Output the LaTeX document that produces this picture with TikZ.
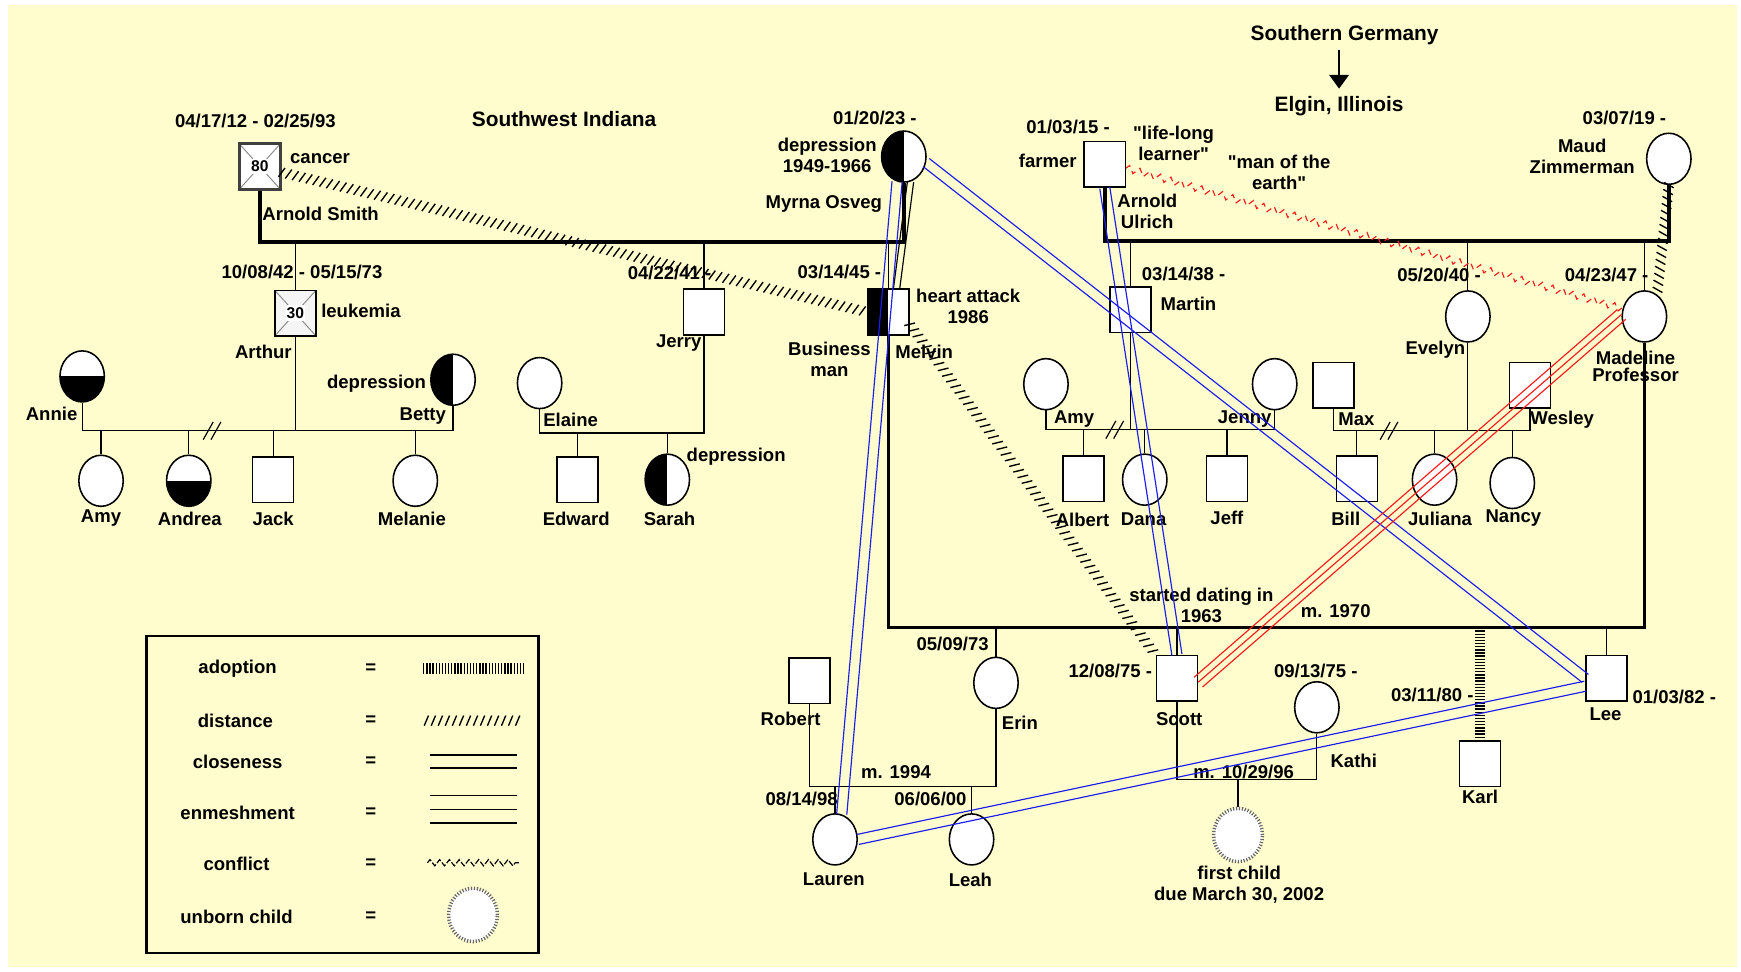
\documentclass[tikz,border=0pt]{standalone}
\usepackage{fontspec}
\setmainfont{Liberation Sans}
\definecolor{paperyellow}{RGB}{255,253,206}
\definecolor{closeblue}{RGB}{30,30,235}
\definecolor{fightred}{RGB}{245,30,30}
\usetikzlibrary{shapes.geometric,arrows.meta,calc,decorations.pathmorphing,decorations.markings}

\begin{document}
\begin{tikzpicture}[x=0.02cm,y=-0.02cm,
    txt/.style={font=\bfseries\fontsize{9.5}{10.8}\selectfont,inner sep=0pt,align=center},
    place/.style={font=\bfseries\fontsize{10.7}{12}\selectfont,inner sep=0pt},
    male/.style={draw,rectangle,fill=white,line width=0.8pt,minimum width=0.74cm,minimum height=0.82cm,inner sep=0pt},
    female/.style={draw,ellipse,fill=white,line width=0.8pt,minimum width=0.8cm,minimum height=0.92cm,inner sep=0pt},
    halfleft/.style={path picture={\fill[black] (path picture bounding box.south west) rectangle (path picture bounding box.north);}},
    halflow/.style={path picture={\fill[black] (path picture bounding box.south west) rectangle (path picture bounding box.east);}},
    deceased/.style={font=\bfseries\fontsize{8}{9}\selectfont,path picture={
        \draw[black!45,line width=0.5pt] (path picture bounding box.south west) -- (path picture bounding box.north east)
            (path picture bounding box.north west) -- (path picture bounding box.south east);
        \fill[white] ([shift={(-5pt,-4pt)}]path picture bounding box.center) rectangle ([shift={(5pt,4pt)}]path picture bounding box.center);}},
    unborn/.style={draw=black!60,ellipse,fill=white,line width=1.8pt,dash pattern=on 0.6pt off 0.9pt,minimum width=0.88cm,minimum height=0.96cm,inner sep=0pt},
    kin/.style={line width=0.6pt},
    bond/.style={line width=1.8pt},
    adopt/.style={line width=0.17cm,dash pattern=on 0.7pt off 0.9pt},
    closeline/.style={closeblue,line width=0.6pt},
    enmesh/.style={fightred,line width=0.6pt},
    conflict/.style={fightred,line width=0.6pt,dash pattern=on 3pt off 2.4pt,decorate,decoration={zigzag,segment length=5.5pt,amplitude=1.8pt}},
    apartline/.style={postaction={decorate},decoration={markings,mark=between positions 0 and 1 step 3.6pt with {\draw[line width=0.7pt] (-1.1pt,-2.6pt) -- (1.1pt,2.6pt);}}}]

    \useasboundingbox (0,0) rectangle (1568,875);
    \fill[paperyellow] (7.6,4.2) rectangle (1564,871);

    % places
    \node[place] (swindiana) at (508,107) {Southwest Indiana};
    \node[place] (sgermany) at (1211,32) {Southern Germany};
    \node[place] (elgin) at (1206,96) {Elgin, Illinois};
    \draw[-{Triangle[width=10pt,length=7pt]},line width=0.8pt,shorten <=2pt,shorten >=4pt] (elgin.north |- sgermany.south) -- (elgin.north);

    % grandparents
    \node[male,deceased,line width=1.4pt,draw=black!75] (arnold) at (234,150) {80};
    \node[female,halfleft] (myrna) at (814,141) {};
    \node[male] (ulrich) at (995,148) {};
    \node[female] (maud) at (1503,143) {};
    \node[txt] (arnolddate) at (230,109) {04/17/12 - 02/25/93};
    \node[txt,anchor=west] (arnoldcause) at (261,143) {cancer};
    \node[txt,anchor=west] (arnoldname) at (236,193) {Arnold Smith};
    \node[txt] (myrnadate) at (788,106) {01/20/23 -};
    \node[txt] (myrnanote) at (745,140) {depression\\1949-1966};
    \node[txt] (myrnaname) at (742,184) {Myrna Osveg};
    \node[txt] (ulrichdate) at (962,114) {01/03/15 -};
    \node[txt,anchor=east] (ulrichjob) at (970,145) {farmer};
    \node[txt] (ulrichquote) at (1057,129) {\textquotedbl life-long\\learner\textquotedbl};
    \node[txt] (ulrichearth) at (1152,155) {\textquotedbl man of the\\earth\textquotedbl};
    \node[txt,anchor=west] (ulrichname) at (1006,190) {Arnold\\Ulrich};
    \node[txt] (mauddate) at (1463,106) {03/07/19 -};
    \node[txt] (maudname) at (1425,141) {Maud\\Zimmerman};

    % parents
    \node[male,deceased,fill=black!4] (arthur) at (266,282) {30};
    \node[male] (jerry) at (634,281) {};
    \node[male,halfleft] (melvin) at (800,281) {};
    \node[male] (martin) at (1018,279) {};
    \node[female] (evelyn) at (1322,285) {};
    \node[female] (madeline) at (1481,285) {};
    \node[txt] (arthurdate) at (272,245) {10/08/42 - 05/15/73};
    \node[txt,anchor=west] (arthurcause) at (289,280) {leukemia};
    \node[txt,anchor=east] (arthurname) at (263,317) {Arthur};
    \node[txt] (jerrydate) at (603,246) {04/22/41 -};
    \node[txt,anchor=east] (jerryname) at (632,309) {Jerry};
    \node[txt] (melvindate) at (756,245) {03/14/45 -};
    \node[txt] (melvinnote) at (872,276) {heart attack\\1986};
    \node[txt] (melvinjob) at (747,324) {Business\\man};
    \node[txt,anchor=west] (melvinname) at (806,317) {Melvin};
    \node[txt] (martindate) at (1066,247) {03/14/38 -};
    \node[txt,anchor=west] (martinname) at (1045,274) {Martin};
    \node[txt] (evelyndate) at (1296,248) {05/20/40 -};
    \node[txt,anchor=east] (evelynname) at (1320,315) {Evelyn};
    \node[txt] (madelinedate) at (1447,248) {04/23/47 -};
    \node[txt,font=\bfseries\fontsize{9.5}{9}\selectfont] (madelinename) at (1473,330) {Madeline\\Professor};

    % in-laws
    \node[female,halflow] (annie) at (74,339) {};
    \node[female,halfleft] (betty) at (408,342) {};
    \node[female] (elaine) at (486,345) {};
    \node[female] (amym) at (942,346) {};
    \node[female] (jenny) at (1148,346) {};
    \node[male] (max) at (1201,347) {};
    \node[male] (wesley) at (1378,347) {};
    \node[txt,anchor=east] (anniename) at (70,373) {Annie};
    \node[txt,anchor=east] (bettyname) at (402,375) {Betty};
    \node[txt,anchor=east] (bettynote) at (384,346) {depression};
    \node[txt,anchor=west] (elainename) at (489,378) {Elaine};
    \node[txt,anchor=west] (amymname) at (949,377) {Amy};
    \node[txt] (jennyname) at (1121,377) {Jenny};
    \node[txt,anchor=west] (maxname) at (1205,378) {Max};
    \node[txt,anchor=west] (wesleyname) at (1378,378) {Wesley};

    % cousins
    \node[female] (amy) at (91,433) {};
    \node[female,halflow] (andrea) at (170,433) {};
    \node[male] (jack) at (246,432) {};
    \node[female] (melanie) at (374,433) {};
    \node[male] (edward) at (520,432) {};
    \node[female,halfleft] (sarah) at (601,432) {};
    \node[male] (albert) at (976,431) {};
    \node[female] (dana) at (1031,432) {};
    \node[male] (jeff) at (1105,431) {};
    \node[male] (bill) at (1222,431) {};
    \node[female] (juliana) at (1292,432) {};
    \node[female] (nancy) at (1362,435) {};
    \node[txt] (amyname) at (91,467) {Amy};
    \node[txt] (andreaname) at (171,467) {Andrea};
    \node[txt] (jackname) at (246,467) {Jack};
    \node[txt] (melaniename) at (371,467) {Melanie};
    \node[txt] (edwardname) at (519,467) {Edward};
    \node[txt] (sarahname) at (603,467) {Sarah};
    \node[txt] (sarahnote) at (663,411) {depression};
    \node[txt] (albertname) at (975,468) {Albert};
    \node[txt] (dananame) at (1030,468) {Dana};
    \node[txt] (jeffname) at (1105,466) {Jeff};
    \node[txt] (billname) at (1212,467) {Bill};
    \node[txt] (julianame) at (1297,467) {Juliana};
    \node[txt] (nancyname) at (1363,467) {Nancy};

    % Melvin and Madeline's children
    \node[male] (robert) at (729,613) {};
    \node[female] (erin) at (897,615) {};
    \node[male] (scott) at (1060,611) {};
    \node[female] (kathi) at (1186,637) {};
    \node[male] (karl) at (1333,688) {};
    \node[male] (lee) at (1447,611) {};
    \node[female] (lauren) at (752,756) {};
    \node[female] (leah) at (875,756) {};
    \node[unborn] (firstchild) at (1115,752) {};
    \node[txt] (dating) at (1082,545) {started dating in\\1963};
    \node[txt] (melvinwed) at (1203,550) {m. 1970};
    \node[txt] (erindate) at (858,580) {05/09/73};
    \node[txt] (scottdate) at (1000,604) {12/08/75 -};
    \node[txt] (kathidate) at (1185,604) {09/13/75 -};
    \node[txt] (karldate) at (1290,626) {03/11/80 -};
    \node[txt,anchor=west] (leedate) at (1470,628) {01/03/82 -};
    \node[txt] (robertname) at (712,647) {Robert};
    \node[txt,anchor=west] (erinname) at (902,651) {Erin};
    \node[txt] (scottname) at (1062,648) {Scott};
    \node[txt] (leename) at (1446,643) {Lee};
    \node[txt,anchor=west] (kathiname) at (1198,685) {Kathi};
    \node[txt] (erinwed) at (807,695) {m. 1994};
    \node[txt] (scottwed) at (1120,695) {m. 10/29/96};
    \node[txt] (karlname) at (1333,718) {Karl};
    \node[txt] (laurendate) at (722,720) {08/14/98};
    \node[txt] (leahdate) at (838,720) {06/06/00};
    \node[txt] (laurenname) at (751,792) {Lauren};
    \node[txt] (leahname) at (874,792) {Leah};
    \node[txt] (firstchildnote) at (1116,797) {first child\\due March 30, 2002};

    % family lines
    \coordinate (smithbar) at (0,218);
    \coordinate (ulrichbar) at (0,217);
    \coordinate (arthurbar) at (0,388);
    \coordinate (jerrybar) at (0,390);
    \coordinate (martinbar) at (0,387);
    \coordinate (evelynbar) at (0,388);
    \coordinate (melvinbar) at (0,565);
    \coordinate (erinbar) at (0,708);
    \coordinate (scottbar) at (0,702);
    \coordinate (melvintop) at ([xshift=0.15cm]melvin.north);

    \draw[bond] (arnold) |- (smithbar -| myrna) -- (myrna);
    \foreach \kid in {arthur,jerry,melvin} \draw[kin] (\kid |- smithbar) -- (\kid);
    \draw[bond] (ulrich) |- (ulrichbar -| maud) -- (maud);
    \foreach \kid in {martin,evelyn,madeline} \draw[kin] (\kid |- ulrichbar) -- (\kid);

    \draw[kin] (annie) |- (arthurbar -| betty) -- (betty);
    \draw[kin] (arthur) -- (arthur |- arthurbar);
    \foreach \kid in {amy,andrea,jack,melanie} \draw[kin] (\kid |- arthurbar) -- (\kid);
    \draw[kin] (elaine) |- (jerrybar -| jerry) -- (jerry);
    \foreach \kid in {edward,sarah} \draw[kin] (\kid |- jerrybar) -- (\kid);
    \draw[kin] (amym) |- (martinbar -| jenny) -- (jenny);
    \draw[kin] (martin) -- (martin |- martinbar);
    \foreach \kid in {albert,dana,jeff} \draw[kin] (\kid |- martinbar) -- (\kid);
    \draw[kin] (max) |- (evelynbar -| wesley) -- (wesley);
    \draw[kin] (evelyn) -- (evelyn |- evelynbar);
    \foreach \kid in {bill,juliana,nancy} \draw[kin] (\kid |- evelynbar) -- (\kid);

    \draw[bond] (melvin) |- (melvinbar -| madeline) -- (madeline);
    \foreach \kid in {erin,scott,lee} \draw[kin] (\kid |- melvinbar) -- (\kid);
    \draw[adopt] (karl |- melvinbar) -- (karl);
    \draw[kin] (robert) |- (erinbar -| erin) -- (erin);
    \foreach \kid in {lauren,leah} \draw[kin] (\kid |- erinbar) -- (\kid);
    \draw[kin] (scott) |- (scottbar -| kathi) -- (kathi);
    \draw[kin] (firstchild |- scottbar) -- (firstchild);

    % divorces
    \foreach \dx/\dy in {190/388,1003/387,1250/388}
        \draw[kin] (\dx-7,\dy+8) -- (\dx+2,\dy-8) (\dx,\dy+8) -- (\dx+9,\dy-8);

    % relationships
    \path[apartline] (arnold.345) -- (melvin.west);
    \path[apartline] (melvin.-30) -- (scott.north west);
    \path[apartline] (maud.south) -- (madeline.60);
    \draw[conflict] (ulrich.-10) -- (madeline.160);
    \foreach \o in {-1.6pt,1.6pt}
        \draw[kin] ($(myrna.285)!\o!90:(melvintop)$) -- ($(melvintop)!\o!-90:(myrna.285)$);
    \foreach \o in {-2.6pt,2.6pt} {
        \draw[closeline] ($(myrna.255)!\o!90:(lauren.75)$) -- ($(lauren.75)!\o!-90:(myrna.255)$);
        \draw[closeline] ($(myrna.345)!\o!90:(lee.west)$) -- ($(lee.west)!\o!-90:(myrna.345)$);
        \draw[closeline] ($(ulrich.south)!\o!90:(scott.north)$) -- ($(scott.north)!\o!-90:(ulrich.south)$);
        \draw[closeline] ($(lauren.east)!\o!90:(lee.200)$) -- ($(lee.200)!\o!-90:(lauren.east)$);
    }
    \foreach \o in {-3.3pt,0pt,3.3pt}
        \draw[enmesh] ($(scott.-10)!\o!90:(madeline.175)$) -- ($(madeline.175)!\o!-90:(scott.-10)$);

    % legend
    \draw[line width=1.2pt] (132,573) rectangle (485,858);
    \node[txt] (lgadopt) at (214,602) {adoption};
    \node[txt] (lgdist) at (212,649) {distance};
    \node[txt] (lgclose) at (214,686) {closeness};
    \node[txt] (lgenmesh) at (214,732) {enmeshment};
    \node[txt] (lgconflict) at (213,778) {conflict};
    \node[txt] (lgunborn) at (213,826) {unborn child};
    \foreach \y in {602,649,686,732,778,826}
        \node[txt] (eq\y) at (334,\y) {=};
    \draw[adopt,line width=0.2cm] (381,602) -- (471,602);
    \path[apartline] (384,649) -- (469,649);
    \foreach \o in {-6,6} \draw[line width=0.9pt] (387,686+\o) -- (466,686+\o);
    \foreach \o in {-12.5,0,12.5} \draw[line width=0.9pt] (387,729+\o) -- (466,729+\o);
    \draw[line width=0.6pt,dash pattern=on 3pt off 1pt,decorate,decoration={zigzag,segment length=5pt,amplitude=1.6pt}] (385,777) -- (468,777);
    \node[unborn] (lgchild) at (426,824) {};
\end{tikzpicture}
\end{document}
